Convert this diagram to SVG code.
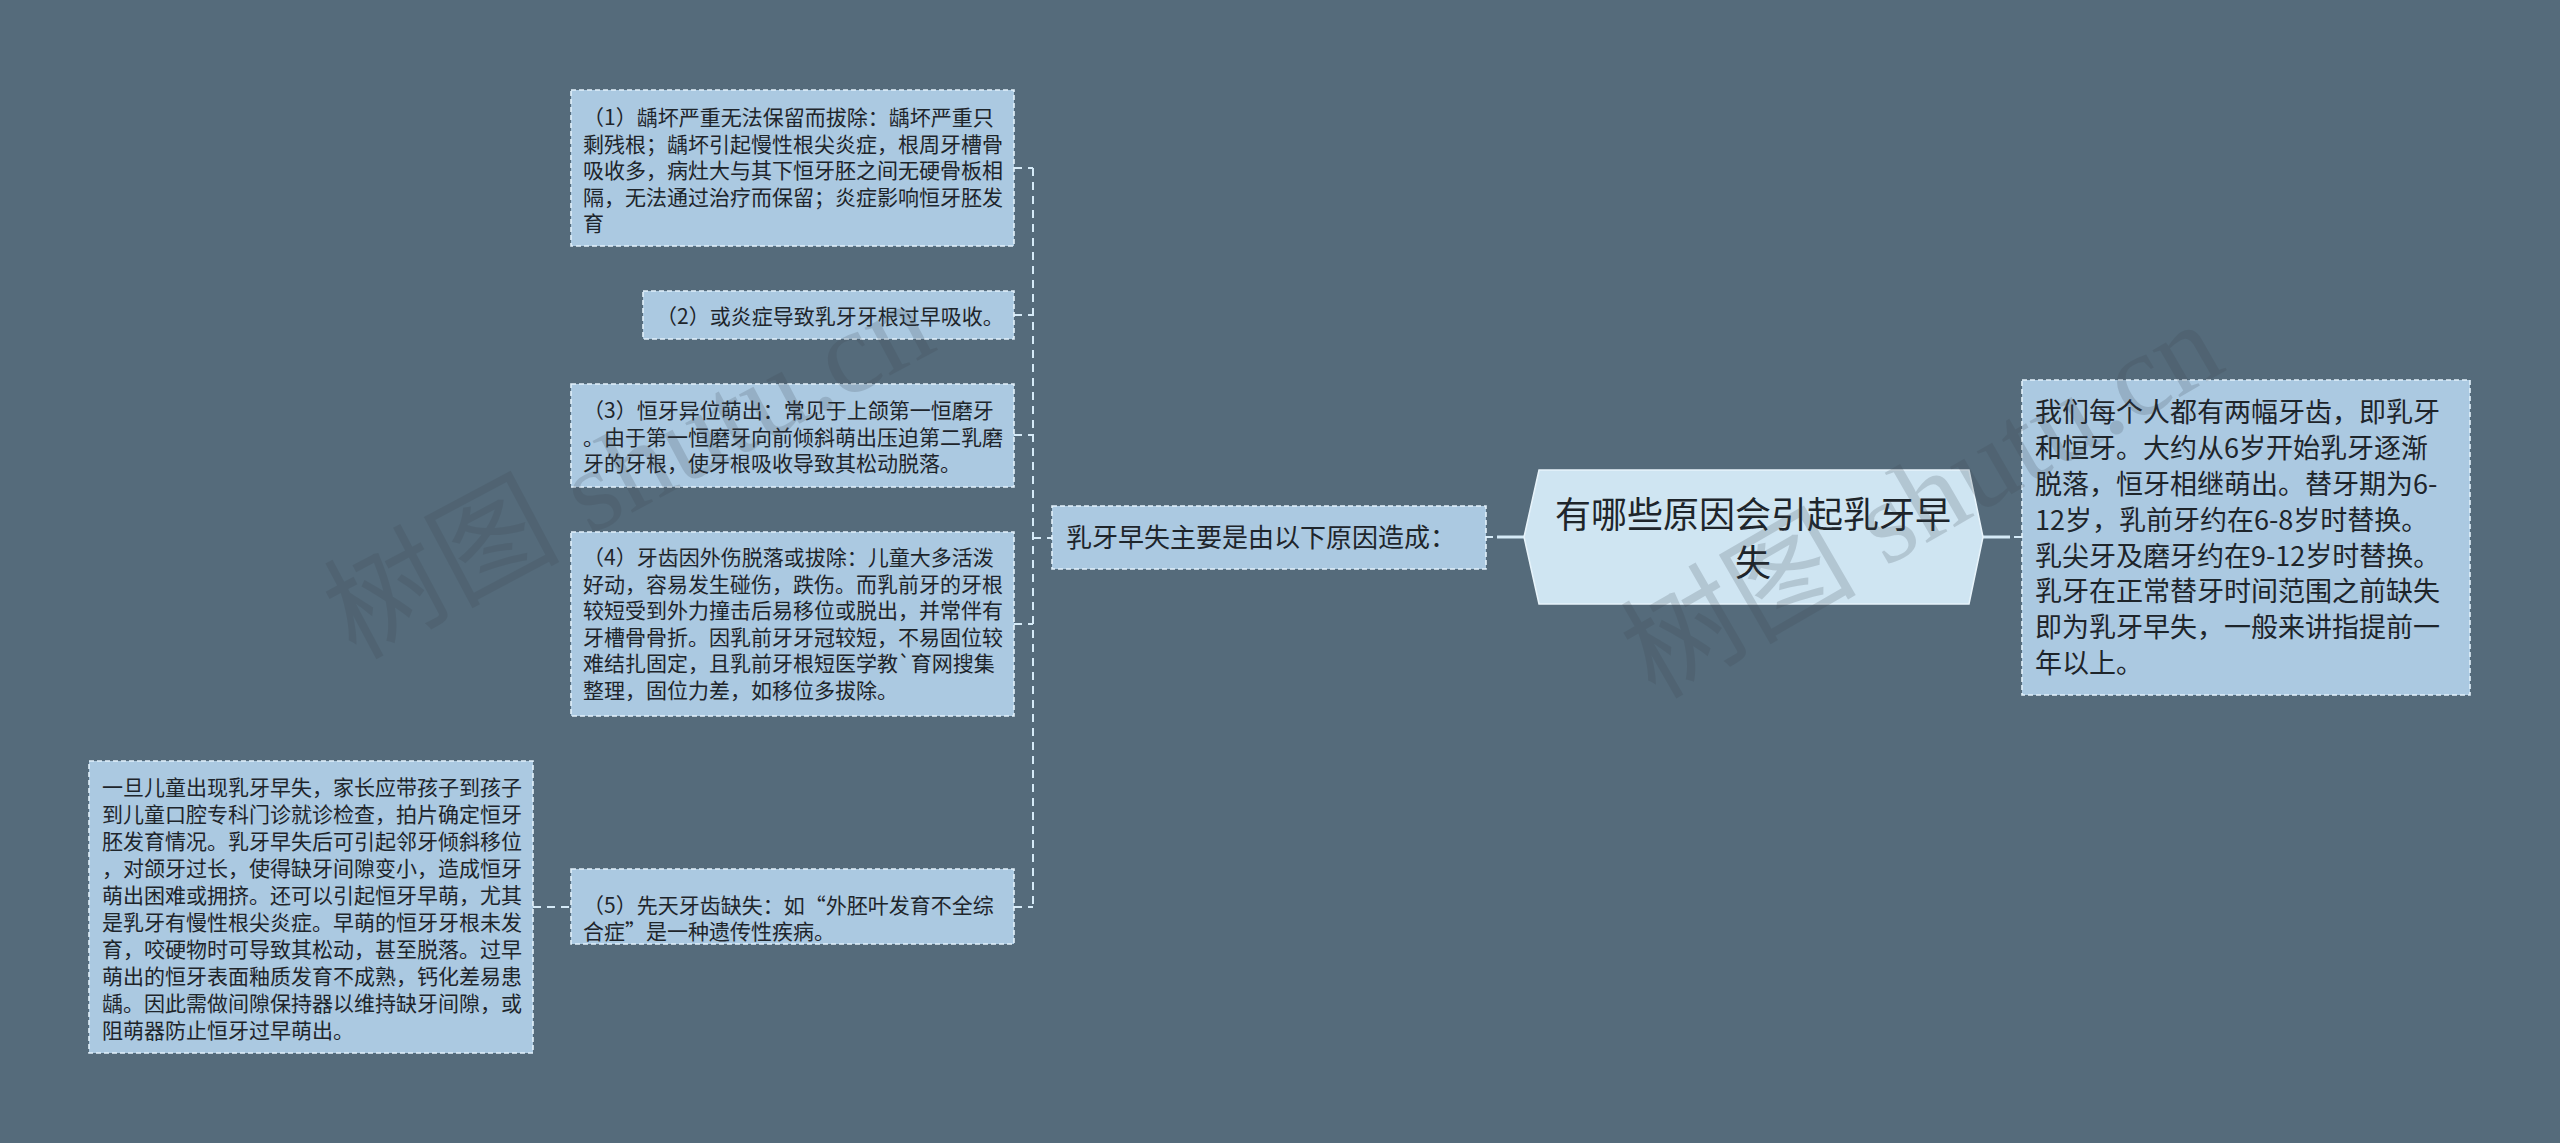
<svg xmlns="http://www.w3.org/2000/svg" width="2560" height="1143" viewBox="0 0 2560 1143">
<style>
.bg{fill:#556b7b}
.box{fill:#abc9e1;stroke:#e2f1fb;stroke-width:1.6;stroke-dasharray:5 3}
.main{fill:#cfe5f2;stroke:#e8f4fb;stroke-width:1.5}
.t{font-family:"Noto Sans CJK SC","Noto Sans",sans-serif;fill:#1e252b}
.s21{font-size:21px}
.s26{font-size:26px}
.s27{font-size:27px}
.s36{font-size:36px}
.dash{fill:none;stroke:#d5eaf7;stroke-width:2;stroke-dasharray:8 6}
.solid{fill:none;stroke:#d5eaf7;stroke-width:3}
.wm{font-family:"Liberation Serif","DejaVu Serif","Noto Sans CJK SC",serif;font-size:118px;fill:#3c4650;opacity:0.19}
</style>
<rect class="bg" x="0" y="0" width="2560" height="1143"/>

<g id="connectors">
<path class="dash" d="M1033 168 V907"/>
<path class="dash" d="M1014 168 H1033"/>
<path class="dash" d="M1014 315 H1033"/>
<path class="dash" d="M1014 435 H1033"/>
<path class="dash" d="M1014 624 H1033"/>
<path class="dash" d="M1014 907 H1033"/>
<path class="dash" d="M1033 538 H1052"/>
<path class="dash" d="M533 907 H571"/>
<path class="dash" d="M1486 537 H1493"/>
<path class="solid" d="M1497 537 H1524"/>
<path class="solid" d="M1983 537 H2010"/>
<path class="dash" d="M2014 537 H2022"/>
</g>

<g id="main">
<polygon class="main" points="1524,537 1539,470 1969,470 1983,537 1969,604 1539,604"/>
<text class="t s36" x="1753" y="528" text-anchor="middle">有哪些原因会引起乳牙早</text>
<text class="t s36" x="1753" y="576" text-anchor="middle">失</text>
</g>

<g id="hub">
<rect class="box" x="1052" y="506" width="434" height="63"/>
<text class="t s26" x="1066" y="547">乳牙早失主要是由以下原因造成：</text>
</g>

<g id="intro">
<rect class="box" x="2022" y="380" width="448" height="315"/>
<text class="t s27" x="2035" y="422">我们每个人都有两幅牙齿，即乳牙</text>
<text class="t s27" x="2035" y="458">和恒牙。大约从6岁开始乳牙逐渐</text>
<text class="t s27" x="2035" y="494">脱落，恒牙相继萌出。替牙期为6-</text>
<text class="t s27" x="2035" y="530">12岁，乳前牙约在6-8岁时替换。</text>
<text class="t s27" x="2035" y="566">乳尖牙及磨牙约在9-12岁时替换。</text>
<text class="t s27" x="2035" y="601">乳牙在正常替牙时间范围之前缺失</text>
<text class="t s27" x="2035" y="637">即为乳牙早失，一般来讲指提前一</text>
<text class="t s27" x="2035" y="673">年以上。</text>
</g>

<g id="cause1">
<rect class="box" x="571" y="90" width="443" height="156"/>
<text class="t s21" x="583" y="125">（1）龋坏严重无法保留而拔除：龋坏严重只</text>
<text class="t s21" x="583" y="151.6">剩残根；龋坏引起慢性根尖炎症，根周牙槽骨</text>
<text class="t s21" x="583" y="178.2">吸收多，病灶大与其下恒牙胚之间无硬骨板相</text>
<text class="t s21" x="583" y="204.8">隔，无法通过治疗而保留；炎症影响恒牙胚发</text>
<text class="t s21" x="583" y="231.4">育</text>
</g>

<g id="cause2">
<rect class="box" x="643" y="291" width="371" height="48"/>
<text class="t s21" x="656" y="324">（2）或炎症导致乳牙牙根过早吸收。</text>
</g>

<g id="cause3">
<rect class="box" x="571" y="384" width="443" height="103"/>
<text class="t s21" x="583" y="418">（3）恒牙异位萌出：常见于上颌第一恒磨牙</text>
<text class="t s21" x="583" y="444.6">。由于第一恒磨牙向前倾斜萌出压迫第二乳磨</text>
<text class="t s21" x="583" y="471.2">牙的牙根，使牙根吸收导致其松动脱落。</text>
</g>

<g id="cause4">
<rect class="box" x="571" y="532" width="443" height="184"/>
<text class="t s21" x="583" y="565">（4）牙齿因外伤脱落或拔除：儿童大多活泼</text>
<text class="t s21" x="583" y="591.6">好动，容易发生碰伤，跌伤。而乳前牙的牙根</text>
<text class="t s21" x="583" y="618.2">较短受到外力撞击后易移位或脱出，并常伴有</text>
<text class="t s21" x="583" y="644.8">牙槽骨骨折。因乳前牙牙冠较短，不易固位较</text>
<text class="t s21" x="583" y="671.4">难结扎固定，且乳前牙根短医学教`育网搜集</text>
<text class="t s21" x="583" y="698">整理，固位力差，如移位多拔除。</text>
</g>

<g id="cause5">
<rect class="box" x="571" y="869" width="443" height="75"/>
<text class="t s21" x="583" y="913">（5）先天牙齿缺失：如“外胚叶发育不全综</text>
<text class="t s21" x="583" y="939">合症”是一种遗传性疾病。</text>
</g>

<g id="advice">
<rect class="box" x="89" y="761" width="444" height="292"/>
<text class="t s21" x="102" y="795">一旦儿童出现乳牙早失，家长应带孩子到孩子</text>
<text class="t s21" x="102" y="822">到儿童口腔专科门诊就诊检查，拍片确定恒牙</text>
<text class="t s21" x="102" y="849">胚发育情况。乳牙早失后可引起邻牙倾斜移位</text>
<text class="t s21" x="102" y="876">，对颌牙过长，使得缺牙间隙变小，造成恒牙</text>
<text class="t s21" x="102" y="903">萌出困难或拥挤。还可以引起恒牙早萌，尤其</text>
<text class="t s21" x="102" y="930">是乳牙有慢性根尖炎症。早萌的恒牙牙根未发</text>
<text class="t s21" x="102" y="957">育，咬硬物时可导致其松动，甚至脱落。过早</text>
<text class="t s21" x="102" y="984">萌出的恒牙表面釉质发育不成熟，钙化差易患</text>
<text class="t s21" x="102" y="1011">龋。因此需做间隙保持器以维持缺牙间隙，或</text>
<text class="t s21" x="102" y="1038">阻萌器防止恒牙过早萌出。</text>
</g>

<g id="watermarks">
<text class="wm" x="355" y="660" transform="rotate(-28 355 660)">树图 shutu.cn</text>
<text class="wm" x="1655" y="700" transform="rotate(-30 1655 700)">树图 shutu.cn</text>
</g>
</svg>
